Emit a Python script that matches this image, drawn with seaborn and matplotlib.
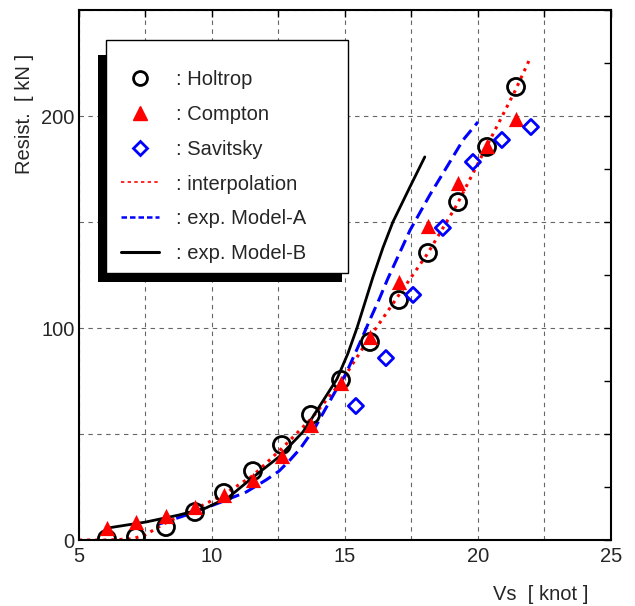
# 선속별 저항 비교 그래프
import seaborn as sns
import matplotlib.pyplot as plt
from matplotlib.lines import Line2D
from matplotlib.patches import Rectangle
from matplotlib.ticker import MultipleLocator, FuncFormatter

# 데이터
vs = [6.05, 7.14, 8.27, 9.36, 10.45, 11.54, 12.63, 13.72, 14.85, 15.94,
      17.03, 18.12, 19.25, 20.34, 21.43]
holtrop = [0.5, 1.4, 6.1, 13.2, 22.2, 32.5, 44.8, 59.0, 75.5, 93.4,
           113.2, 135.4, 159.4, 185.4, 213.7]
compton = [5.7, 8.5, 11.3, 15.6, 21.2, 28.3, 39.6, 54.2, 74.1, 95.8,
           121.7, 148.1, 168.4, 185.8, 198.6]

sav_vs = [15.41, 16.54, 17.56, 18.68, 19.81, 20.90, 21.99]
savitsky = [63.2, 85.8, 115.6, 147.2, 178.3, 188.7, 194.8]

interp_vs = [5.0, 6.0, 7.0, 7.5, 8.25, 9.35, 10.45, 11.55, 12.65, 13.75,
             14.85, 15.95, 17.05, 18.1, 19.2, 20.3, 21.4, 21.95]
interp_r = [0.0, 0.0, 0.5, 2.5, 8.0, 14.5, 21.5, 30.5, 43.5, 57.5,
            74.5, 96.0, 116.0, 135.0, 158.0, 185.0, 212.0, 227.0]

modelA_vs = [8.0, 9.25, 10.26, 11.28, 12.03, 12.52, 12.93, 13.31, 13.87, 14.81,
             15.0, 15.56, 15.94, 16.3, 16.6, 17.44, 18.2, 18.83, 19.44, 20.0]
modelA_r = [7.5, 12.7, 17.5, 22.6, 28.3, 32.5, 37.7, 43.0, 53.0, 74.0,
            77.5, 93.0, 104.0, 114.0, 123.0, 146.0, 163.0, 176.0, 188.7, 197.2]

modelB_vs = [6.05, 7.52, 8.76, 9.77, 10.64, 11.5, 12.52, 13.42, 13.76, 14.7,
             15.11, 15.45, 15.75, 16.05, 16.43, 16.8, 17.44, 18.0]
modelB_r = [5.6, 8.5, 11.8, 15.1, 20.3, 29.2, 39.2, 51.0, 57.5, 76.0,
            88.0, 100.0, 112.0, 124.0, 138.0, 150.0, 166.5, 180.7]

legend_labels = [': Holtrop', ': Compton', ': Savitsky',
                 ': interpolation', ': exp. Model-A', ': exp. Model-B']

# 스타일
FS = 14.5
sns.set_style('white')
plt.rcParams['font.family'] = ['Liberation Sans', 'DejaVu Sans']
plt.rcParams['font.size'] = FS

fig = plt.figure(figsize=(6.35, 6.06), dpi=100)
ax = fig.add_axes([0.1244, 0.1089, 0.8378, 0.8746])

# 곡선
sns.lineplot(x=interp_vs, y=interp_r, ax=ax, color='red', linestyle=':',
             linewidth=2.2, estimator=None, zorder=2)
sns.lineplot(x=modelA_vs, y=modelA_r, ax=ax, color='blue', linestyle=(0, (4, 2)),
             linewidth=2.2, estimator=None, zorder=2)
sns.lineplot(x=modelB_vs, y=modelB_r, ax=ax, color='black', linestyle='-',
             linewidth=2, estimator=None, zorder=2)

# 마커
sns.scatterplot(x=vs, y=holtrop, ax=ax, marker='o', s=150, facecolor='none',
                edgecolor='black', linewidth=2, zorder=3)
sns.scatterplot(x=vs, y=compton, ax=ax, marker='^', s=120, color='red',
                edgecolor='red', linewidth=0, zorder=3)
sns.scatterplot(x=sav_vs, y=savitsky, ax=ax, marker='D', s=60, facecolor='none',
                edgecolor='blue', linewidth=2, zorder=3)

# 축
ax.set_xlim(5, 25)
ax.set_ylim(0, 250)
ax.xaxis.set_major_locator(MultipleLocator(2.5))
ax.xaxis.set_major_formatter(FuncFormatter(lambda v, p: f'{v:g}' if v % 5 == 0 else ''))
ax.yaxis.set_major_locator(MultipleLocator(50))
ax.yaxis.set_minor_locator(MultipleLocator(25))
ax.yaxis.set_major_formatter(FuncFormatter(lambda v, p: f'{v:g}' if v % 100 == 0 else ''))
ax.tick_params(which='both', direction='in', top=True, right=True,
               length=5, width=1, color='black', labelsize=FS)
ax.tick_params(axis='y', pad=3)
ax.tick_params(axis='x', pad=5)
ax.grid(True, which='major', linestyle=(0, (4, 4)), color='#666666', linewidth=0.8)
for sp in ax.spines.values():
    sp.set_color('black')
    sp.set_linewidth(1.5)

ax.set_xlabel('Vs  [ knot ]', fontsize=FS)
ax.xaxis.set_label_coords(0.867, -0.084)
ax.set_ylabel('Resist.  [ kN ]', fontsize=FS)
ax.yaxis.set_label_coords(-0.085, 0.804)

# 범례 (그림자 상자)
ax.add_patch(Rectangle((0.0357, 0.4868), 0.4587, 0.4283, transform=ax.transAxes,
                       facecolor='black', edgecolor='none', clip_on=False, zorder=4.8))
ax.add_patch(Rectangle((0.0508, 0.5038), 0.4549, 0.4396, transform=ax.transAxes,
                       facecolor='white', edgecolor='black', linewidth=1,
                       clip_on=False, zorder=4.9))

handles = [
    Line2D([], [], marker='o', ls='', mfc='none', mec='black', mew=2, ms=10),
    Line2D([], [], marker='^', ls='', color='red', ms=10),
    Line2D([], [], marker='D', ls='', mfc='none', mec='blue', mew=2, ms=7.5),
    Line2D([], [], color='red', ls=(0, (2, 2)), lw=1.2),
    Line2D([], [], color='blue', ls=(0, (2.2, 1.2)), lw=1.8),
    Line2D([], [], color='black', lw=2.2),
]
leg = ax.legend(handles, legend_labels, loc='upper left', bbox_to_anchor=(0.079, 0.886),
                frameon=False, handlelength=1.9, handletextpad=0.85, labelspacing=0.78,
                borderpad=0, borderaxespad=0, numpoints=1, fontsize=FS)
leg.set_zorder(6)

plt.savefig('out.png', dpi=100)
